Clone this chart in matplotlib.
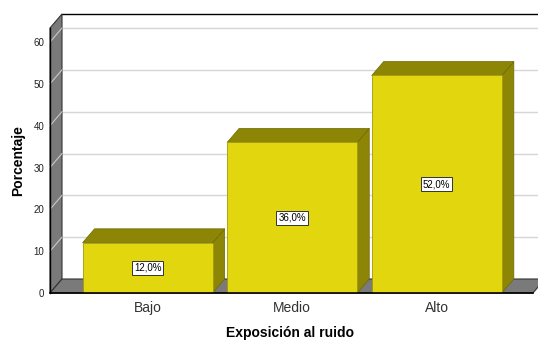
import matplotlib.pyplot as plt
from matplotlib.patches import Polygon, Rectangle
import numpy as np

plt.rcParams["font.family"] = ["Liberation Sans", "DejaVu Sans"]

categorias = ["Bajo", "Medio", "Alto"]
porcentajes = [12.0, 36.0, 52.0]
marcas_y = [0, 10, 20, 30, 40, 50, 60]

amarillo = "#e2d60e"
oliva = "#8c8505"
gris = "#7a7a7a"

fig = plt.figure(figsize=(5.38, 3.40), dpi=100)
ax = fig.add_axes([50 / 538, 47 / 340, 488 / 538, 279 / 340])
ax.set_xlim(-0.675, 2.70)
ax.set_ylim(0, 66.7)
for s in ax.spines.values():
    s.set_visible(False)

# profundidad del efecto 3D (12 px a la derecha, 14 px arriba) en unidades de datos
p0 = ax.transData.transform((0, 0))
p1 = ax.transData.inverted().transform(p0 + np.array([12, 14]))
dx, dy = p1[0], p1[1]

x_izq = -0.675
x_der = 2.665
techo = 66.7 - dy

# pared del fondo
ax.add_patch(Rectangle((x_izq + dx, dy), 4.0, techo, facecolor="white",
                       edgecolor="none", zorder=0, clip_on=False))
ax.plot([x_izq + dx, x_izq + dx + 4.0], [techo + dy, techo + dy], color="black",
        lw=1.0, zorder=1, clip_on=False)
for v in marcas_y[1:]:
    ax.plot([x_izq + dx, x_izq + dx + 4.0], [v + dy, v + dy], color="#d6d6d6",
            lw=1.0, zorder=1, clip_on=False)

# pared lateral
ax.add_patch(Polygon([(x_izq, 0), (x_izq, techo), (x_izq + dx, techo + dy), (x_izq + dx, dy)],
                     closed=True, facecolor=gris, edgecolor="#333333", lw=0.8, zorder=2,
                     clip_on=False))
for v in marcas_y[1:]:
    ax.plot([x_izq, x_izq + dx], [v, v + dy], color="#c8c8c8", lw=0.8, zorder=2,
            clip_on=False)

# suelo
ax.add_patch(Polygon([(x_izq, 0), (x_der, 0), (x_der + dx, dy), (x_izq + dx, dy)],
                     closed=True, facecolor=gris, edgecolor="#333333", lw=0.8, zorder=2,
                     clip_on=False))
ax.plot([x_izq, x_der], [0, 0], color="black", lw=1.2, zorder=6, clip_on=False)
ax.plot([x_izq, x_izq], [0, techo], color="black", lw=1.0, zorder=6, clip_on=False)

# barras
ancho = 0.9
for i, h in enumerate(porcentajes):
    x0, x1 = i - ancho / 2, i + ancho / 2
    ax.add_patch(Polygon([(x1, 0), (x1, h), (x1 + dx, h + dy), (x1 + dx, dy)],
                         closed=True, facecolor=oliva, edgecolor="#6e6a04", lw=0.5,
                         zorder=3, clip_on=False))
    ax.add_patch(Polygon([(x0, h), (x1, h), (x1 + dx, h + dy), (x0 + dx, h + dy)],
                         closed=True, facecolor=oliva, edgecolor="#6e6a04", lw=0.5,
                         zorder=3, clip_on=False))
ax.bar(range(len(categorias)), porcentajes, width=ancho, color=amarillo,
       edgecolor="#a29a0a", linewidth=0.6, zorder=4)

for i, h in enumerate(porcentajes):
    ax.text(i, h / 2, f"{h:.1f}".replace(".", ",") + "%", ha="center", va="center",
            fontsize=7, zorder=7,
            bbox=dict(boxstyle="square,pad=0.2", facecolor="white", edgecolor="#333333",
                      lw=0.7))

ax.set_xticks(range(len(categorias)))
ax.set_xticklabels(categorias, fontsize=10, color="#333333")
ax.set_yticks(marcas_y)
ax.set_yticklabels([str(v) for v in marcas_y], fontsize=7, color="#222222")
ax.tick_params(axis="both", length=0)
ax.tick_params(axis="x", pad=6)
ax.tick_params(axis="y", pad=4)

fig.text(290 / 538, 1 - 333 / 340, "Exposición al ruido", ha="center", va="center",
         fontsize=10, fontweight="bold")
fig.text(18 / 538, 1 - 161 / 340, "Porcentaje", ha="center", va="center",
         rotation=90, fontsize=10, fontweight="bold")

fig.savefig("out.png", dpi=100)
